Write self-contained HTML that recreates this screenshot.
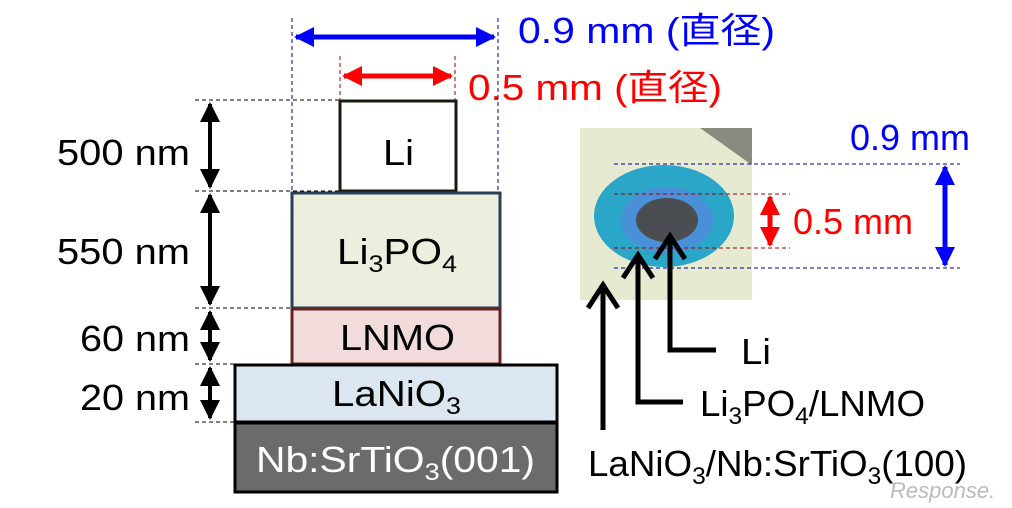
<!DOCTYPE html>
<html><head><meta charset="utf-8"><style>
html,body{margin:0;padding:0;background:#fff;}
svg{display:block;font-family:"Liberation Sans","Noto Sans CJK JP",sans-serif;}
</style></head><body>
<svg width="1012" height="508" viewBox="0 0 1012 508" xmlns="http://www.w3.org/2000/svg">
<defs>
<marker id="ab" viewBox="0 0 10 10" refX="9" refY="5" markerWidth="4" markerHeight="4" orient="auto-start-reverse"><path d="M0,0 L10,5 L0,10 z" fill="#0000ff"/></marker>
<marker id="ar" viewBox="0 0 10 10" refX="9" refY="5" markerWidth="4" markerHeight="4" orient="auto-start-reverse"><path d="M0,0 L10,5 L0,10 z" fill="#ff0000"/></marker>
<marker id="ak" viewBox="0 0 10 10" refX="9" refY="5" markerWidth="5" markerHeight="5" orient="auto-start-reverse"><path d="M0,0 L10,5 L0,10 z" fill="#000"/></marker>
</defs>
<g stroke="#000" stroke-width="1" stroke-dasharray="4,3" fill="none">
<line x1="195" y1="100" x2="400" y2="100"/>
<line x1="195" y1="191" x2="400" y2="191"/>
<line x1="195" y1="308" x2="300" y2="308"/>
<line x1="195" y1="364" x2="300" y2="364"/>
<line x1="195" y1="422" x2="240" y2="422"/>
</g>
<g stroke="#000080" stroke-width="1" stroke-dasharray="4,3"><line x1="292" y1="18" x2="292" y2="192"/><line x1="498" y1="18" x2="498" y2="192"/></g>
<g stroke="#a00000" stroke-width="1" stroke-dasharray="4,3"><line x1="340" y1="56" x2="340" y2="100"/><line x1="455" y1="56" x2="455" y2="100"/></g>
<line x1="296" y1="37" x2="494" y2="37" stroke="#0000ff" stroke-width="5" marker-start="url(#ab)" marker-end="url(#ab)"/>
<line x1="344" y1="76" x2="451" y2="76" stroke="#ff0000" stroke-width="5" marker-start="url(#ar)" marker-end="url(#ar)"/>
<text x="518" y="43" font-size="36" fill="#0000ff" textLength="257" lengthAdjust="spacingAndGlyphs">0.9 mm (直径)</text>
<text x="468" y="100" font-size="36" fill="#ff0000" textLength="254" lengthAdjust="spacingAndGlyphs">0.5 mm (直径)</text>
<rect x="340" y="101" width="116" height="90" fill="#fff" stroke="#1a1a10" stroke-width="3"/>
<text x="383" y="165" font-size="36" textLength="31" lengthAdjust="spacingAndGlyphs">Li</text>
<rect x="292" y="193" width="208" height="115" fill="#ebf0de" stroke="#2a3f5a" stroke-width="3"/>
<text x="337" y="264" font-size="36" textLength="120" lengthAdjust="spacingAndGlyphs">Li<tspan font-size="24" dy="8">3</tspan><tspan dy="-8">PO</tspan><tspan font-size="24" dy="8">4</tspan></text>
<rect x="292" y="309" width="208" height="55" fill="#f2dcdb" stroke="#632423" stroke-width="3"/>
<text x="340" y="350" font-size="36" textLength="115" lengthAdjust="spacingAndGlyphs">LNMO</text>
<rect x="235" y="365" width="322" height="57" fill="#dce6f1" stroke="#000" stroke-width="3"/>
<text x="332" y="406" font-size="36" textLength="129" lengthAdjust="spacingAndGlyphs">LaNiO<tspan font-size="24" dy="8">3</tspan></text>
<rect x="235" y="423" width="322" height="69" fill="#6b6b6b" stroke="#000" stroke-width="3"/>
<text x="256" y="472" font-size="36" fill="#fff" textLength="279" lengthAdjust="spacingAndGlyphs">Nb:SrTiO<tspan font-size="24" dy="8">3</tspan><tspan dy="-8">(001)</tspan></text>
<g stroke="#000" stroke-width="4">
<line x1="210" y1="104" x2="210" y2="187" marker-start="url(#ak)" marker-end="url(#ak)"/>
<line x1="210" y1="195" x2="210" y2="304" marker-start="url(#ak)" marker-end="url(#ak)"/>
<line x1="210" y1="312" x2="210" y2="360" marker-start="url(#ak)" marker-end="url(#ak)"/>
<line x1="210" y1="368" x2="210" y2="418" marker-start="url(#ak)" marker-end="url(#ak)"/>
</g>
<g font-size="36">
<text x="57" y="165" textLength="133" lengthAdjust="spacingAndGlyphs">500 nm</text>
<text x="57" y="264" textLength="133" lengthAdjust="spacingAndGlyphs">550 nm</text>
<text x="80" y="351" textLength="110" lengthAdjust="spacingAndGlyphs">60 nm</text>
<text x="80" y="410" textLength="110" lengthAdjust="spacingAndGlyphs">20 nm</text>
</g>
<rect x="580" y="128" width="172" height="172" fill="#e6ead0"/>
<polygon points="700,128 752,128 752,165" fill="#8a8a80"/>
<ellipse cx="664" cy="216" rx="70" ry="51" fill="#2aa6c8"/>
<ellipse cx="667" cy="220" rx="46" ry="33" fill="#4a90d8"/>
<ellipse cx="667" cy="220" rx="31" ry="22" fill="#4a4e52"/>
<g stroke-width="1" stroke-dasharray="4,3">
<line x1="614" y1="164" x2="960" y2="164" stroke="#000090"/>
<line x1="614" y1="268" x2="960" y2="268" stroke="#000090"/>
<line x1="614" y1="194" x2="790" y2="194" stroke="#a00000"/>
<line x1="614" y1="248" x2="790" y2="248" stroke="#a00000"/>
</g>
<line x1="770" y1="197" x2="770" y2="245" stroke="#ff0000" stroke-width="5" marker-start="url(#ar)" marker-end="url(#ar)"/>
<line x1="945" y1="167" x2="945" y2="265" stroke="#0000ff" stroke-width="5" marker-start="url(#ab)" marker-end="url(#ab)"/>
<text x="850" y="150" font-size="36" fill="#0000ff" textLength="120" lengthAdjust="spacingAndGlyphs">0.9 mm</text>
<text x="793" y="234" font-size="36" fill="#ff0000" textLength="120" lengthAdjust="spacingAndGlyphs">0.5 mm</text>
<g stroke="#000" stroke-width="5" fill="none">
<polyline points="603,430 603,285"/><polyline points="588,308 603,285 618,308"/>
<polyline points="638,255 638,402 683,402"/><polyline points="623,278 638,255 653,278"/>
<polyline points="670,236 670,350 716,350"/><polyline points="655,259 670,236 685,259"/>
</g>
<text x="741" y="364" font-size="36" textLength="30" lengthAdjust="spacingAndGlyphs">Li</text>
<text x="700" y="416" font-size="36" textLength="225" lengthAdjust="spacingAndGlyphs">Li<tspan font-size="24" dy="8">3</tspan><tspan dy="-8">PO</tspan><tspan font-size="24" dy="8">4</tspan><tspan dy="-8">/LNMO</tspan></text>
<text x="588" y="476" font-size="36" textLength="379" lengthAdjust="spacingAndGlyphs">LaNiO<tspan font-size="24" dy="8">3</tspan><tspan dy="-8">/Nb:SrTiO</tspan><tspan font-size="24" dy="8">3</tspan><tspan dy="-8">(100)</tspan></text>
<text x="890" y="498" font-size="22" fill="#bbb" font-style="italic">Response.</text>
</svg>
</body></html>
